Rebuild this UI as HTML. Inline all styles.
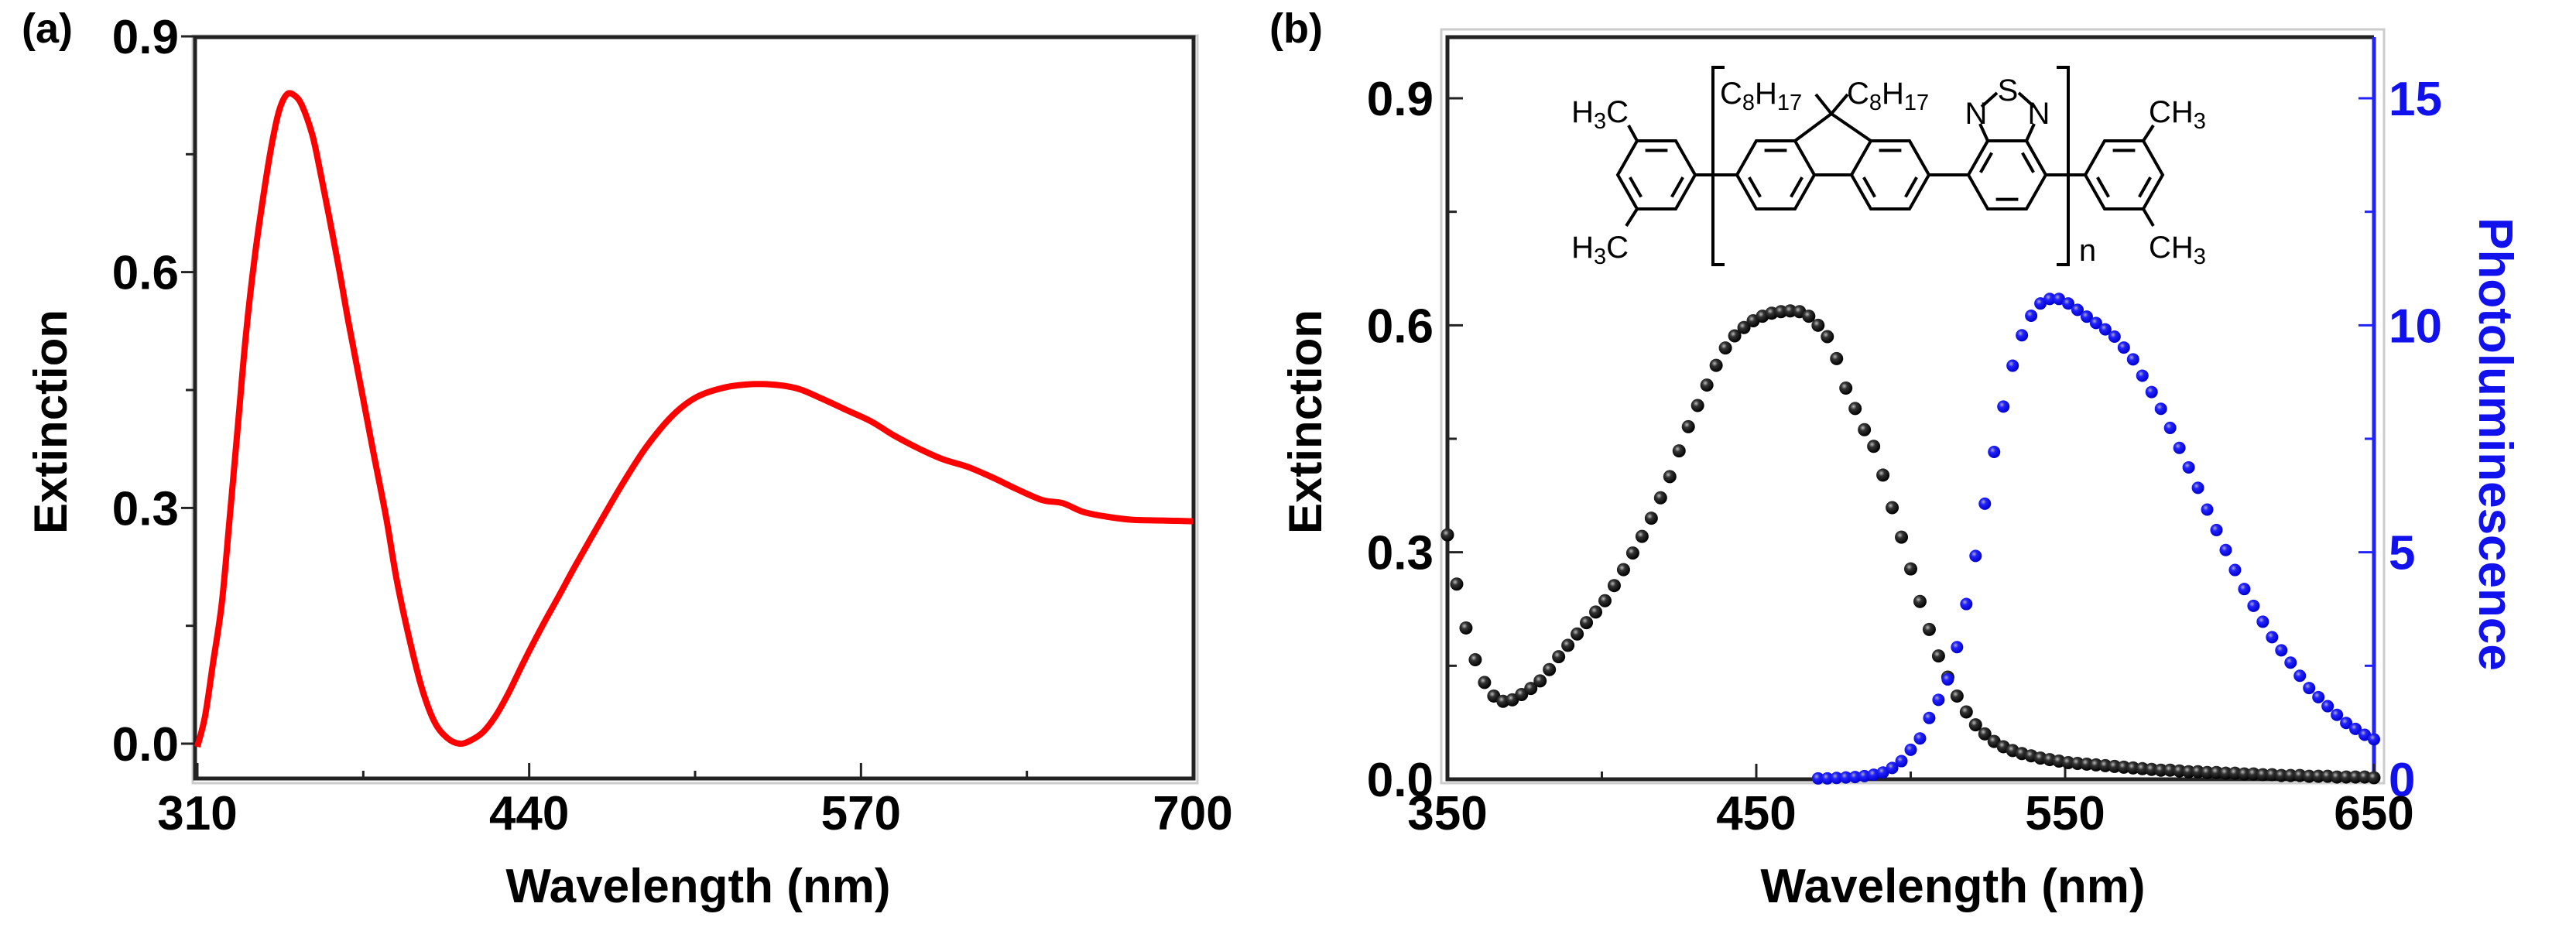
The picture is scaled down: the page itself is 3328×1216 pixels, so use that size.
<!DOCTYPE html>
<html><head><meta charset="utf-8"><style>
html,body{margin:0;padding:0;background:#fff;}
svg{display:block;font-family:"Liberation Sans",Arial,sans-serif;}
</style></head><body>
<svg id="fig" width="3328" height="1216" viewBox="0 0 3328 1216" xmlns="http://www.w3.org/2000/svg">
<defs>
<radialGradient id="gk" cx="0.38" cy="0.35" r="0.65"><stop offset="0" stop-color="#bbb"/><stop offset="0.35" stop-color="#333"/><stop offset="1" stop-color="#000"/></radialGradient>
<radialGradient id="gb" cx="0.38" cy="0.35" r="0.65"><stop offset="0" stop-color="#aab"/><stop offset="0.35" stop-color="#22f"/><stop offset="1" stop-color="#00c"/></radialGradient>
</defs>
<g id="pa"></g>
<g id="pb"></g>
<g id="chem" stroke="#000" stroke-width="4" fill="none"></g>
</svg>
<script>
// Panel (a) data
const aWave = [310,313,316,319.6,323,326,329,332.5,336,339,342,345,348,351,355,358,364.6,369,374,379,384,388,393,398,403,408,412.7,417,422,427,432,438,445,452,458,468,477,486,496,505,515,525,535,545,554,564,574,583,593,602,612,622,631,641,649,657,666,676,688,700];
const aExt = [-0.004,0.035,0.10,0.18,0.30,0.41,0.52,0.62,0.70,0.76,0.805,0.826,0.825,0.812,0.775,0.73,0.62,0.54,0.455,0.37,0.287,0.21,0.134,0.07,0.027,0.007,0.0,0.004,0.015,0.036,0.065,0.105,0.149,0.19,0.226,0.283,0.333,0.378,0.417,0.44,0.452,0.457,0.457,0.452,0.44,0.425,0.41,0.392,0.375,0.362,0.352,0.338,0.324,0.31,0.306,0.295,0.289,0.285,0.284,0.283];
const aXTicks = [310,440,570,700];
const aYTicks = [0.0,0.3,0.6,0.9];
// Panel (b) data
const bStart = 350, bStep = 3;
const bExt = [.323,.258,.200,.158,.128,.110,.103,.105,.112,.120,.130,.145,.162,.177,.192,.207,.221,.236,.256,.277,.299,.321,.345,.372,.400,.434,.466,.494,.521,.547,.570,.586,.597,.606,.612,.616,.618,.619,.618,.612,.600,.585,.556,.517,.490,.462,.440,.402,.359,.320,.278,.235,.198,.163,.135,.110,.089,.072,.060,.050,.043,.038,.034,.031,.028,.026,.024,.022,.021,.020,.019,.018,.017,.016,.015,.014,.013,.012,.012,.011,.010,.010,.009,.009,.008,.008,.007,.007,.006,.006,.005,.005,.005,.004,.004,.004,.003,.003,.003,.003,.002];
const plStart = 470;
const bPL = [0.02,0.02,0.03,0.04,0.05,0.07,0.1,0.15,0.25,0.4,0.65,0.9,1.35,1.75,2.2,2.91,3.86,4.92,6.07,7.21,8.21,9.11,9.78,10.21,10.48,10.58,10.58,10.48,10.34,10.19,10.05,9.91,9.75,9.51,9.25,8.89,8.53,8.16,7.74,7.30,6.87,6.42,5.94,5.49,5.05,4.61,4.19,3.82,3.47,3.13,2.84,2.57,2.28,2.01,1.81,1.61,1.42,1.24,1.11,0.98,0.88];
const bXTicks = [350,450,550,650];
const bYTicks = [0.0,0.3,0.6,0.9];
const bY2Ticks = [0,5,10,15];

const NS="http://www.w3.org/2000/svg";
function mk(parent,tag,attrs,text){const e=document.createElementNS(NS,tag);for(const k in attrs)e.setAttribute(k,attrs[k]);if(text!==undefined)e.textContent=text;parent.appendChild(e);return e;}
function smooth(pts){let d='M'+pts[0][0].toFixed(1)+','+pts[0][1].toFixed(1);
 for(let i=0;i<pts.length-1;i++){const p0=pts[Math.max(0,i-1)],p1=pts[i],p2=pts[i+1],p3=pts[Math.min(pts.length-1,i+2)];
  const c1=[p1[0]+(p2[0]-p0[0])/6,p1[1]+(p2[1]-p0[1])/6],c2=[p2[0]-(p3[0]-p1[0])/6,p2[1]-(p3[1]-p1[1])/6];
  d+=' C'+c1.map(v=>v.toFixed(1)).join(',')+' '+c2.map(v=>v.toFixed(1)).join(',')+' '+p2.map(v=>v.toFixed(1)).join(',');}
 return d;}

// ---------- Panel A ----------
const pa=document.getElementById('pa');
const ax=v=>255+(v-310)*(1541-255)/390;
const ay=v=>961-v*(961-47)/0.9;
let e;
e=mk(pa,'rect',{x:249,y:46,width:1298,height:966,fill:'none',stroke:'#ccc','stroke-width':3});
e=mk(pa,'rect',{x:252,y:48,width:1290,height:958,fill:'none',stroke:'#222','stroke-width':5});


[0.15,0.45,0.75].forEach(v=>{mk(pa,'line',{x1:240,x2:252,y1:ay(v),y2:ay(v),stroke:'#222','stroke-width':3});});
aYTicks.forEach(v=>{
 mk(pa,'line',{x1:234,x2:252,y1:ay(v),y2:ay(v),stroke:'#222','stroke-width':3});
 e=mk(pa,'text',{x:231,y:ay(v)+22,'text-anchor':'end','font-size':62,'font-weight':'bold'},v.toFixed(1));
 
 
});
[375,505,635].forEach(v=>{mk(pa,'line',{x1:ax(v),x2:ax(v),y1:1006,y2:996,stroke:'#222','stroke-width':3});});
aXTicks.forEach(v=>{
 mk(pa,'line',{x1:ax(v),x2:ax(v),y1:1006,y2:986,stroke:'#222','stroke-width':3});
 e=mk(pa,'text',{x:ax(v),y:1072,'text-anchor':'middle','font-size':62,'font-weight':'bold'},String(v));
 
 
});
e=mk(pa,'path',{d:smooth(aWave.map((w,i)=>[ax(w),ay(aExt[i])])),fill:'none',stroke:'#f00','stroke-width':8,'stroke-linejoin':'round'});


e=mk(pa,'text',{x:902,y:1166,'text-anchor':'middle','font-size':62,'font-weight':'bold'},'Wavelength (nm)');


e=mk(pa,'text',{x:0,y:0,transform:'translate(86,545) rotate(-90)','text-anchor':'middle','font-size':60,'font-weight':'bold'},'Extinction');


e=mk(pa,'text',{x:28,y:55,'font-size':54,'font-weight':'bold'},'(a)');



// ---------- Panel B ----------
const pb=document.getElementById('pb');
const bx=v=>1870+(v-350)*(3067-1870)/300;
const by=v=>1007-v*(1007-127)/0.9;
const by2=v=>1007-v*(1007-127)/15;
mk(pb,'rect',{x:1862,y:38,width:1218,height:974,fill:'none',stroke:'#ccc','stroke-width':3});
e=mk(pb,'path',{d:'M3067,48 L1870,48 L1870,1007 L3067,1007',fill:'none',stroke:'#222','stroke-width':5});


e=mk(pb,'line',{x1:3067,x2:3067,y1:48,y2:1007,stroke:'#22f','stroke-width':5});


[0.15,0.45,0.75].forEach(v=>{mk(pb,'line',{x1:1870,x2:1882,y1:by(v),y2:by(v),stroke:'#222','stroke-width':3});});
bYTicks.forEach(v=>{
 mk(pb,'line',{x1:1870,x2:1890,y1:by(v),y2:by(v),stroke:'#222','stroke-width':3});
 e=mk(pb,'text',{x:1852,y:by(v)+22,'text-anchor':'end','font-size':62,'font-weight':'bold'},v.toFixed(1));
 
 
});
[2.5,7.5,12.5].forEach(v=>{mk(pb,'line',{x1:3055,x2:3067,y1:by2(v),y2:by2(v),stroke:'#22f','stroke-width':3});});
bY2Ticks.forEach(v=>{
 mk(pb,'line',{x1:3047,x2:3067,y1:by2(v),y2:by2(v),stroke:'#22f','stroke-width':3});
 e=mk(pb,'text',{x:3086,y:by2(v)+22,'text-anchor':'start','font-size':62,'font-weight':'bold',fill:'#11e'},String(v));
 
 
});
[400,500,600].forEach(v=>{mk(pb,'line',{x1:bx(v),x2:bx(v),y1:1007,y2:997,stroke:'#222','stroke-width':3});});
bXTicks.forEach(v=>{
 mk(pb,'line',{x1:bx(v),x2:bx(v),y1:1007,y2:987,stroke:'#222','stroke-width':3});
 e=mk(pb,'text',{x:bx(v),y:1072,'text-anchor':'middle','font-size':62,'font-weight':'bold'},String(v));
 
 
});
bExt.forEach((v,i)=>{
 const c=mk(pb,'circle',{cx:bx(bStart+i*bStep),cy:by(v),r:8.5,fill:'url(#gk)'});
 
 
});
bPL.forEach((v,i)=>{
 const c=mk(pb,'circle',{cx:bx(plStart+i*bStep),cy:by2(v),r:8,fill:'url(#gb)'});
 
 
});
e=mk(pb,'text',{x:2523,y:1166,'text-anchor':'middle','font-size':62,'font-weight':'bold'},'Wavelength (nm)');


e=mk(pb,'text',{x:0,y:0,transform:'translate(1707,545) rotate(-90)','text-anchor':'middle','font-size':60,'font-weight':'bold'},'Extinction');


e=mk(pb,'text',{x:0,y:0,transform:'translate(3203,574) rotate(90)','text-anchor':'middle','font-size':62,'font-weight':'bold',fill:'#11e'},'Photoluminescence');


e=mk(pb,'text',{x:1640,y:55,'font-size':54,'font-weight':'bold'},'(b)');



// ---------- Chemical structure ----------
const ch=document.getElementById('chem');
const RY=226, hw=50, hh=44;
function ring(cx,dbl){
 const p=[[cx-hw,RY],[cx-hw/2,RY-hh],[cx+hw/2,RY-hh],[cx+hw,RY],[cx+hw/2,RY+hh],[cx-hw/2,RY+hh]];
 mk(ch,'polygon',{points:p.map(q=>q.join(',')).join(' ')});
 dbl.forEach(k=>{const a=p[k],b=p[(k+1)%6];
  const s=0.72, ax1=cx+(a[0]-cx)*s, ay1=RY+(a[1]-RY)*s, bx1=cx+(b[0]-cx)*s, by1=RY+(b[1]-RY)*s;
  const f=0.8; mk(ch,'line',{x1:ax1+(bx1-ax1)*(1-f)/2,y1:ay1+(by1-ay1)*(1-f)/2,x2:bx1-(bx1-ax1)*(1-f)/2,y2:by1-(by1-ay1)*(1-f)/2});});
 return p;
}
ring(2140,[1,3,5]); ring(2294,[1,3,5]); ring(2442,[1,3,5]); ring(2593,[0,2,4]); ring(2744,[1,3,5]);
function ln(x1,y1,x2,y2){mk(ch,'line',{x1,y1,x2,y2});}
ln(2190,RY,2244,RY); ln(2344,RY,2392,RY); ln(2492,RY,2543,RY); ln(2643,RY,2694,RY);
ln(2319,RY-hh,2366,147); ln(2417,RY-hh,2366,147); ln(2366,147,2346,122); ln(2366,147,2387,122);
ln(2115,RY-hh,2104,162); ln(2115,RY+hh,2101,292); ln(2769,RY-hh,2782,162); ln(2769,RY+hh,2782,292);
ln(2568,RY-hh,2558,160); ln(2618,RY-hh,2628,160); ln(2560,138,2580,120); ln(2608,120,2628,138);
mk(ch,'path',{d:'M2228,87 L2213,87 L2213,342 L2228,342'});
mk(ch,'path',{d:'M2657,87 L2672,87 L2672,342 L2657,342'});
function lab(x,y,html,anchor,name){const t=mk(ch,'text',{x,y,'font-size':40,fill:'#000',stroke:'none','text-anchor':anchor||'start'});t.innerHTML=html;
 
 }
const sub='<tspan dy="8" font-size="29">';
lab(2104,158,'H'+sub+'3</tspan><tspan dy="-8">C</tspan>','end','methyl-label');
lab(2104,333,'H'+sub+'3</tspan><tspan dy="-8">C</tspan>','end','methyl-label');
lab(2776,158,'CH'+sub+'3</tspan>','start','methyl-label');
lab(2776,333,'CH'+sub+'3</tspan>','start','methyl-label');
lab(2222,134,'C'+sub+'8</tspan><tspan dy="-8">H</tspan>'+sub+'17</tspan>','start','octyl-label');
lab(2386,134,'C'+sub+'8</tspan><tspan dy="-8">H</tspan>'+sub+'17</tspan>','start','octyl-label');
lab(2553,160,'N','middle','nitrogen-label');
lab(2634,160,'N','middle','nitrogen-label');
lab(2594,130,'S','middle','sulfur-label');
lab(2697,337,'n','middle','repeat-n-label');
</script>
</body></html>
